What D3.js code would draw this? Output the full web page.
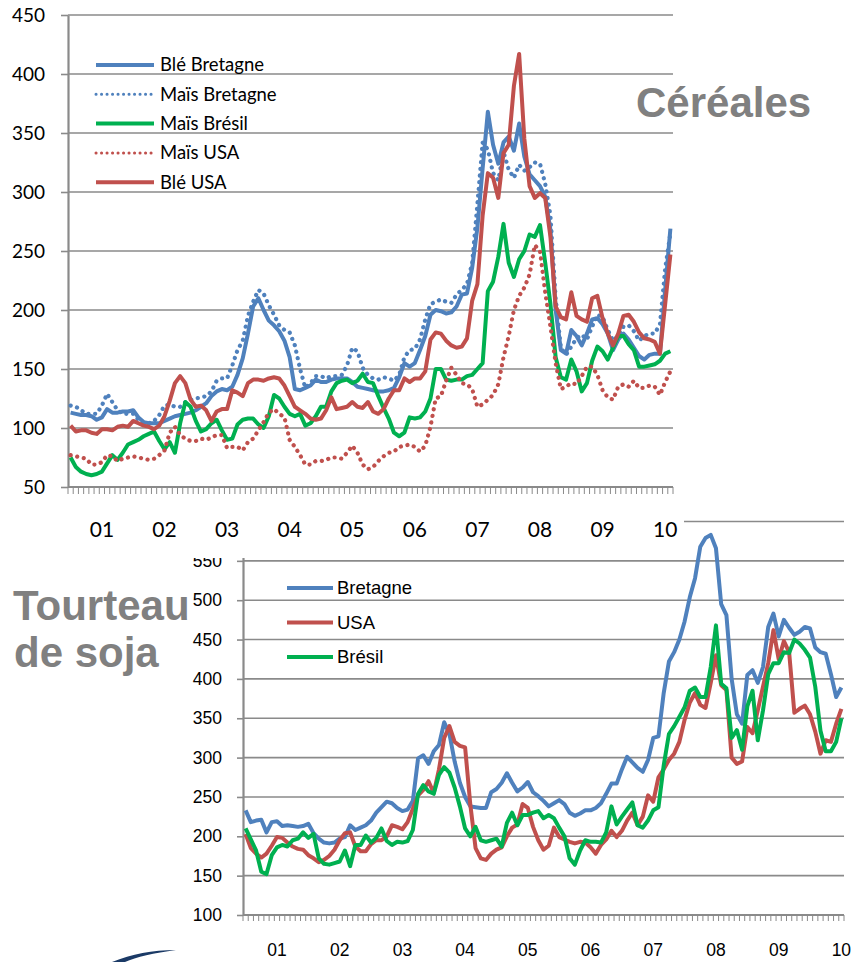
<!DOCTYPE html>
<html>
<head>
<meta charset="utf-8">
<script src="https://cdn.jsdelivr.net/npm/d3@7"></script>
<style>
    body { margin: 0; background: #fff; }
    svg { display: block; }
</style>
</head>
<body>
<svg id="chart" width="851" height="962"></svg>
<script>
// months Jul 2000 .. Feb 2010 (cereals) and Jul 2000 .. Jan 2010 (soy meal)
const cerealMonths = d3.timeMonth.range(new Date(2000, 6, 1), new Date(2010, 2, 1))
const soyMonths = d3.timeMonth.range(new Date(2000, 6, 1), new Date(2010, 1, 1))
const yearLabels = ['01', '02', '03', '04', '05', '06', '07', '08', '09', '10']
const cerealTicks = [50, 100, 150, 200, 250, 300, 350, 400, 450]
const soyTicks = [100, 150, 200, 250, 300, 350, 400, 450, 500, 550]
const soyMax = 600 // top gridline, its label is hidden behind the cereal chart

const bleBretagne = [
    113, 112, 111, 111, 110, 107, 109, 116, 113, 113,
    114, 114, 115, 109, 105, 104, 104, 104, 106, 108,
    110, 111, 112, 113, 115, 118, 121, 127, 131, 133,
    132, 135, 145, 159, 180, 203, 210, 200, 191, 187,
    182, 174, 160, 133, 132, 134, 136, 141, 139, 139,
    141, 142, 142, 142, 139, 135, 134, 133, 132, 131,
    131, 132, 134, 143, 155, 152, 155, 166, 178, 196,
    200, 199, 197, 198, 203, 213, 214, 236, 270, 320,
    368, 340, 324, 342, 347, 335, 358, 330, 315, 310,
    305, 296, 268, 200, 166, 163, 183, 178, 170, 180,
    192, 193, 188, 180, 166, 175, 180, 175, 168, 161,
    158, 162, 163, 163, 217, 269]
const maisBretagne = [
    119, 118, 115, 112, 112, 112, 119, 129, 122, 115,
    112, 112, 112, 107, 104, 104, 106, 111, 119, 120,
    118, 118, 122, 124, 125, 126, 127, 131, 140, 142,
    142, 153, 166, 174, 195, 207, 217, 214, 204, 196,
    187, 183, 181, 170, 150, 134, 138, 144, 144, 142,
    144, 144, 145, 153, 168, 165, 151, 145, 142, 141,
    143, 142, 140, 145, 160, 166, 167, 175, 192, 205,
    207, 209, 207, 206, 213, 217, 222, 240, 290, 342,
    336, 316, 310, 334, 319, 312, 323, 318, 321, 325,
    324, 307, 280, 210, 168, 162, 169, 176, 179, 175,
    186, 196, 194, 183, 174, 178, 186, 187, 182, 174,
    178, 180, 180, 188, 235, 265]
const maisBresil = [
    75, 67, 63, 61, 60, 61, 63, 70, 77, 73,
    79, 86, 88, 90, 93, 95, 97, 89, 82, 88,
    79, 104, 122, 118, 106, 97, 99, 104, 107, 98,
    90, 91, 103, 107, 108, 108, 103, 100, 110, 128,
    125, 118, 112, 110, 112, 102, 104, 110, 118, 118,
    131, 138, 140, 141, 138, 140, 146, 139, 138, 127,
    117, 108, 96, 93, 96, 109, 108, 109, 114, 125,
    150, 150, 141, 140, 141, 141, 144, 145, 150, 155,
    216, 224, 245, 273, 240, 228, 243, 250, 264, 262,
    272, 240, 205, 160, 143, 141, 158, 148, 131, 138,
    157, 169, 165, 158, 168, 178, 178, 171, 166, 152,
    152, 153, 154, 157, 163, 165]
const maisUSA = [
    77, 76, 75, 74, 69, 69, 71, 77, 76, 72,
    74, 75, 76, 75, 74, 73, 74, 77, 81, 96,
    101, 94, 91, 89, 89, 91, 90, 92, 94, 94,
    83, 84, 84, 81, 88, 91, 98, 105, 113, 116,
    112, 109, 90, 84, 77, 69, 69, 72, 72, 73,
    75, 75, 74, 79, 85, 79, 69, 65, 67, 72,
    76, 79, 80, 84, 85, 86, 84, 80, 85, 101,
    125, 127, 140, 151, 145, 138, 137, 133, 118, 120,
    124, 128, 137, 160, 178, 200, 212, 219, 230, 255,
    250, 215, 186, 155, 133, 135, 138, 137, 144, 152,
    152, 145, 132, 126, 124, 135, 137, 135, 140, 134,
    134, 136, 135, 128, 139, 148]
const bleUSA = [
    102, 97, 98, 98, 96, 95, 99, 99, 98, 101,
    102, 101, 106, 104, 102, 101, 99, 102, 110, 123,
    138, 144, 138, 124, 118, 119, 115, 106, 114, 116,
    116, 132, 130, 127, 138, 141, 141, 140, 142, 143,
    142, 136, 127, 118, 115, 112, 108, 107, 108, 115,
    126, 116, 117, 118, 122, 118, 117, 122, 114, 112,
    116, 125, 132, 132, 142, 139, 142, 142, 148, 175,
    181, 180, 174, 170, 168, 169, 176, 208, 222, 280,
    316, 312, 295, 333, 340, 390, 417, 345, 305, 295,
    299, 295, 262, 203, 194, 192, 215, 195, 192, 190,
    210, 212, 193, 180, 170, 180, 195, 196, 190, 181,
    176, 175, 173, 163, 205, 247]

const soyBretagne = [
    233, 218, 220, 221, 205, 218, 219, 213, 214, 213,
    212, 213, 216, 204, 197, 192, 191, 192, 197, 199,
    214, 208, 211, 214, 220, 230, 237, 244, 242, 236,
    232, 234, 245, 299, 303, 292, 308, 316, 345, 330,
    295, 268, 250, 238, 237, 236, 236, 256, 260, 268,
    280, 268, 257, 262, 269, 256, 251, 245, 238, 242,
    246, 241, 230, 226, 229, 233, 233, 236, 242, 254,
    267, 267, 285, 301, 294, 287, 282, 297, 325, 327,
    382, 422, 434, 450, 473, 504, 528, 568, 579, 583,
    566, 495, 481, 400, 355, 343, 405, 411, 395, 415,
    466, 483, 454, 475, 465, 456, 460, 466, 464, 440,
    434, 432, 406, 377, 389]
const soyUSA = [
    203, 185, 178, 173, 178, 188, 199, 198, 192, 187,
    184, 183, 176, 172, 167, 170, 175, 183, 195, 204,
    205, 187, 181, 181, 190, 195, 195, 200, 214, 212,
    209, 218, 235, 252, 259, 270, 255, 285, 325, 340,
    320, 315, 313, 240, 185, 172, 170, 178, 183, 186,
    200, 211, 215, 241, 236, 212, 195, 183, 188, 211,
    199, 196, 193, 191, 193, 192, 186, 178, 189, 196,
    207, 199, 207, 220, 230, 214, 225, 252, 244, 275,
    285, 297, 305, 320, 348, 370, 382, 367, 363, 395,
    430, 392, 386, 300, 292, 295, 339, 331, 360, 390,
    420, 462, 425, 448, 434, 357, 362, 366, 355, 333,
    305, 322, 320, 343, 362]
const soyBresil = [
    210, 196, 182, 155, 152, 176, 186, 189, 187, 195,
    197, 205, 198, 203, 172, 165, 164, 166, 168, 182,
    162, 189, 189, 201, 192, 198, 210, 194, 189, 193,
    192, 194, 208, 254, 265, 257, 254, 278, 288, 281,
    262, 238, 210, 200, 212, 195, 193, 195, 197, 187,
    217, 230, 214, 227, 227, 230, 232, 223, 227, 223,
    211, 200, 172, 164, 182, 195, 193, 193, 192, 205,
    238, 215, 225, 234, 243, 214, 211, 220, 233, 237,
    290, 330, 340, 352, 364, 385, 389, 377, 377, 415,
    468, 394, 388, 325, 335, 310, 365, 385, 322, 360,
    406, 420, 420, 434, 433, 450, 445, 437, 427, 390,
    334, 308, 308, 320, 350]

const blue = '#4F81BD'
const red = '#C0504D'
const green = '#00B050'
const grey = '#8a8a8a'
const titleGrey = '#808080'

const svg = d3.select('#chart')

const drawPanel = cfg => {
    const n = cfg.months.length
    const yMax = cfg.yMax || cfg.ticks[cfg.ticks.length - 1]
    const x = d3.scaleBand()
        .domain(d3.range(n))
        .range([cfg.left, cfg.right])
    const y = d3.scaleLinear()
        .domain([cfg.ticks[0], yMax])
        .range([cfg.bottom, cfg.top])
    const cx = i => x(i) + x.bandwidth() / 2
    const g = svg.append('g')

    // gridlines
    const grid = cfg.ticks.slice(1)
    if (yMax !== cfg.ticks[cfg.ticks.length - 1]) grid.push(yMax)
    g.append('g')
        .selectAll('line')
        .data(grid)
        .join('line')
        .attr('x1', cfg.left)
        .attr('x2', cfg.right)
        .attr('y1', d => y(d))
        .attr('y2', d => y(d))
        .attr('stroke', grey)
        .attr('stroke-width', 1.6)

    // left axis (y)
    const yAxis = g.append('g')
        .attr('transform', `translate(${cfg.left},0)`)
        .call(d3.axisLeft(y)
            .tickValues(cfg.ticks)
            .tickSizeInner(cfg.tickLen)
            .tickSizeOuter(0)
            .tickPadding(cfg.yPad))
    yAxis.select('.domain').attr('stroke', grey).attr('stroke-width', 2.2)
    yAxis.selectAll('.tick line').attr('stroke', grey).attr('stroke-width', 1.6)
    yAxis.selectAll('.tick text')
        .attr('font-family', cfg.font)
        .attr('font-size', cfg.yFontSize)
        .attr('fill', '#000')

    // bottom axis (x), one tick per month
    const xAxis = g.append('g')
    xAxis.append('line')
        .attr('x1', cfg.left)
        .attr('x2', cfg.right)
        .attr('y1', cfg.bottom)
        .attr('y2', cfg.bottom)
        .attr('stroke', grey)
        .attr('stroke-width', 2.2)
    xAxis.selectAll('.mtick')
        .data(d3.range(n + 1))
        .join('line')
        .attr('class', 'mtick')
        .attr('x1', i => i < n ? x(i) : cfg.right)
        .attr('x2', i => i < n ? x(i) : cfg.right)
        .attr('y1', cfg.bottom)
        .attr('y2', cfg.bottom + cfg.tickLen)
        .attr('stroke', grey)
        .attr('stroke-width', 1)

    const januaries = d3.range(n).filter(i => cfg.months[i].getMonth() === 0)
    xAxis.selectAll('.ylab')
        .data(januaries)
        .join('text')
        .attr('class', 'ylab')
        .attr('x', cx)
        .attr('y', cfg.labelY)
        .attr('dy', '0.35em')
        .attr('text-anchor', 'middle')
        .attr('font-family', cfg.font)
        .attr('font-size', cfg.xFontSize)
        .text((d, k) => yearLabels[k])

    // series
    const line = d3.line()
        .x((d, i) => cx(i))
        .y(d => y(d))
    cfg.series.forEach(s => {
        g.append('path')
            .datum(s.values)
            .attr('fill', 'none')
            .attr('stroke', s.color)
            .attr('stroke-width', s.dotted ? 4.2 : 4)
            .attr('stroke-dasharray', s.dotted ? '0.1 6.6' : null)
            .attr('stroke-linecap', s.dotted ? 'round' : 'butt')
            .attr('stroke-linejoin', 'round')
            .attr('d', line)
    })

    // legend
    const leg = g.append('g')
    cfg.series.forEach((s, k) => {
        const ly = cfg.legend.y + k * cfg.legend.gap
        leg.append('line')
            .attr('x1', cfg.legend.x)
            .attr('x2', cfg.legend.x + cfg.legend.len)
            .attr('y1', ly)
            .attr('y2', ly)
            .attr('stroke', s.color)
            .attr('stroke-width', s.dotted ? 3 : 4)
            .attr('stroke-dasharray', s.dotted ? '0.1 5.4' : null)
            .attr('stroke-linecap', s.dotted ? 'round' : 'butt')
        leg.append('text')
            .attr('x', cfg.legend.x + cfg.legend.len + cfg.legend.pad)
            .attr('y', ly)
            .attr('dy', '0.35em')
            .attr('font-family', cfg.font)
            .attr('font-size', cfg.legend.fontSize)
            .text(s.name)
    })
}

// soy meal chart sits underneath
drawPanel({
    months: soyMonths,
    ticks: soyTicks,
    yMax: soyMax,
    left: 243, right: 844, top: 521.5, bottom: 915,
    tickLen: 6, yPad: 15, labelY: 950,
    font: 'Liberation Sans', yFontSize: 17.5, xFontSize: 17.5,
    legend: { x: 287, y: 588, gap: 34.5, len: 46, pad: 4, fontSize: 18.5 },
    series: [
        { name: 'Bretagne', values: soyBretagne, color: blue },
        { name: 'USA', values: soyUSA, color: red },
        { name: 'Brésil', values: soyBresil, color: green }
    ]
})

// cereal chart box covers its top
svg.append('rect')
    .attr('x', 0)
    .attr('y', 0)
    .attr('width', 684)
    .attr('height', 558)
    .attr('fill', '#fff')

drawPanel({
    months: cerealMonths,
    ticks: cerealTicks,
    left: 68, right: 673, top: 15, bottom: 487,
    tickLen: 7, yPad: 16, labelY: 530,
    font: 'Lato', yFontSize: 19, xFontSize: 21,
    legend: { x: 96, y: 65, gap: 29.3, len: 58, pad: 6, fontSize: 18.5 },
    series: [
        { name: 'Blé Bretagne', values: bleBretagne, color: blue },
        { name: 'Maïs Bretagne', values: maisBretagne, color: blue, dotted: true },
        { name: 'Maïs Brésil', values: maisBresil, color: green },
        { name: 'Maïs USA', values: maisUSA, color: red, dotted: true },
        { name: 'Blé USA', values: bleUSA, color: red }
    ]
})

// titles
const title = (txt, tx, ty) => svg.append('text')
    .attr('x', tx)
    .attr('y', ty)
    .attr('font-family', 'Liberation Sans')
    .attr('font-weight', 'bold')
    .attr('font-size', 42)
    .attr('fill', titleGrey)
    .text(txt)

title('Céréales', 636, 117)
title('Tourteau', 13, 620)
title('de soja', 14, 667)

// logo swoosh, bottom left
svg.append('path')
    .attr('d', 'M112,962 C132,954 152,950 176,950 C154,953 136,957 125,962 Z')
    .attr('fill', '#1b3a66')
</script>
</body>
</html>
